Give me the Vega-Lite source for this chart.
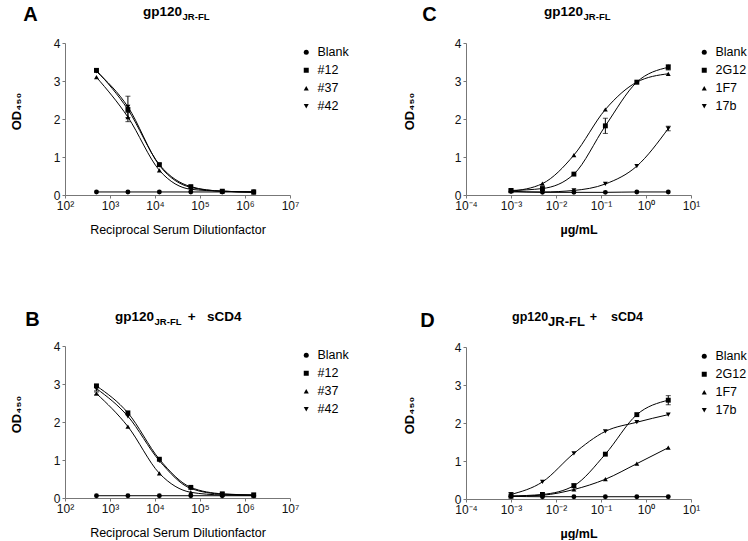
{
  "$schema": "https://vega.github.io/schema/vega-lite/v6.json",
  "padding": {"left": 10, "top": 5, "right": 0, "bottom": 0},
  "background": "white",
  "datasets": {
    "ab": [
      {"p":"A","s":"Blank","x":500,"y":0.08},{"p":"A","s":"Blank","x":2500,"y":0.08},{"p":"A","s":"Blank","x":12500,"y":0.08},{"p":"A","s":"Blank","x":62500,"y":0.08},{"p":"A","s":"Blank","x":312500,"y":0.08},{"p":"A","s":"Blank","x":1562500,"y":0.08},
      {"p":"A","s":"#12","x":500,"y":3.28,"e":0.04},{"p":"A","s":"#12","x":2500,"y":2.25},{"p":"A","s":"#12","x":12500,"y":0.8},{"p":"A","s":"#12","x":62500,"y":0.22},{"p":"A","s":"#12","x":312500,"y":0.1},{"p":"A","s":"#12","x":1562500,"y":0.08},
      {"p":"A","s":"#37","x":500,"y":3.1},{"p":"A","s":"#37","x":2500,"y":2.05,"e":0.12},{"p":"A","s":"#37","x":12500,"y":0.65},{"p":"A","s":"#37","x":62500,"y":0.15},{"p":"A","s":"#37","x":312500,"y":0.1},{"p":"A","s":"#37","x":1562500,"y":0.07},
      {"p":"A","s":"#42","x":500,"y":3.25},{"p":"A","s":"#42","x":2500,"y":2.32,"e":0.28},{"p":"A","s":"#42","x":12500,"y":0.78},{"p":"A","s":"#42","x":62500,"y":0.2},{"p":"A","s":"#42","x":312500,"y":0.1},{"p":"A","s":"#42","x":1562500,"y":0.08},
      {"p":"B","s":"Blank","x":500,"y":0.06},{"p":"B","s":"Blank","x":2500,"y":0.06},{"p":"B","s":"Blank","x":12500,"y":0.06},{"p":"B","s":"Blank","x":62500,"y":0.06},{"p":"B","s":"Blank","x":312500,"y":0.06},{"p":"B","s":"Blank","x":1562500,"y":0.06},
      {"p":"B","s":"#12","x":500,"y":2.95,"e":0.04},{"p":"B","s":"#12","x":2500,"y":2.24},{"p":"B","s":"#12","x":12500,"y":1.02},{"p":"B","s":"#12","x":62500,"y":0.28},{"p":"B","s":"#12","x":312500,"y":0.11},{"p":"B","s":"#12","x":1562500,"y":0.08},
      {"p":"B","s":"#37","x":500,"y":2.75,"e":0.04},{"p":"B","s":"#37","x":2500,"y":1.88},{"p":"B","s":"#37","x":12500,"y":0.65},{"p":"B","s":"#37","x":62500,"y":0.15},{"p":"B","s":"#37","x":312500,"y":0.08},{"p":"B","s":"#37","x":1562500,"y":0.07},
      {"p":"B","s":"#42","x":500,"y":2.88,"e":0.06},{"p":"B","s":"#42","x":2500,"y":2.15},{"p":"B","s":"#42","x":12500,"y":0.98},{"p":"B","s":"#42","x":62500,"y":0.25},{"p":"B","s":"#42","x":312500,"y":0.1},{"p":"B","s":"#42","x":1562500,"y":0.08}
    ],
    "cd": [
      {"p":"C","s":"Blank","x":0.001,"y":0.1},{"p":"C","s":"Blank","x":0.005,"y":0.07},{"p":"C","s":"Blank","x":0.025,"y":0.07},{"p":"C","s":"Blank","x":0.125,"y":0.07},{"p":"C","s":"Blank","x":0.625,"y":0.08},{"p":"C","s":"Blank","x":3.125,"y":0.08},
      {"p":"C","s":"2G12","x":0.001,"y":0.12,"e":0.04},{"p":"C","s":"2G12","x":0.005,"y":0.17},{"p":"C","s":"2G12","x":0.025,"y":0.55},{"p":"C","s":"2G12","x":0.125,"y":1.82,"e":0.2},{"p":"C","s":"2G12","x":0.625,"y":2.97},{"p":"C","s":"2G12","x":3.125,"y":3.36,"e":0.07},
      {"p":"C","s":"1F7","x":0.001,"y":0.1},{"p":"C","s":"1F7","x":0.005,"y":0.3},{"p":"C","s":"1F7","x":0.025,"y":1.05},{"p":"C","s":"1F7","x":0.125,"y":2.25},{"p":"C","s":"1F7","x":0.625,"y":2.97},{"p":"C","s":"1F7","x":3.125,"y":3.19},
      {"p":"C","s":"17b","x":0.001,"y":0.08},{"p":"C","s":"17b","x":0.005,"y":0.08},{"p":"C","s":"17b","x":0.025,"y":0.12},{"p":"C","s":"17b","x":0.125,"y":0.29},{"p":"C","s":"17b","x":0.625,"y":0.76},{"p":"C","s":"17b","x":3.125,"y":1.75,"e":0.06},
      {"p":"D","s":"Blank","x":0.001,"y":0.07},{"p":"D","s":"Blank","x":0.005,"y":0.06},{"p":"D","s":"Blank","x":0.025,"y":0.06},{"p":"D","s":"Blank","x":0.125,"y":0.06},{"p":"D","s":"Blank","x":0.625,"y":0.06},{"p":"D","s":"Blank","x":3.125,"y":0.06},
      {"p":"D","s":"2G12","x":0.001,"y":0.08},{"p":"D","s":"2G12","x":0.005,"y":0.12},{"p":"D","s":"2G12","x":0.025,"y":0.35,"e":0.05},{"p":"D","s":"2G12","x":0.125,"y":1.18},{"p":"D","s":"2G12","x":0.625,"y":2.22},{"p":"D","s":"2G12","x":3.125,"y":2.6,"e":0.12},
      {"p":"D","s":"1F7","x":0.001,"y":0.07},{"p":"D","s":"1F7","x":0.005,"y":0.1},{"p":"D","s":"1F7","x":0.025,"y":0.25},{"p":"D","s":"1F7","x":0.125,"y":0.52},{"p":"D","s":"1F7","x":0.625,"y":0.93},{"p":"D","s":"1F7","x":3.125,"y":1.35},
      {"p":"D","s":"17b","x":0.001,"y":0.12,"e":0.05},{"p":"D","s":"17b","x":0.005,"y":0.45},{"p":"D","s":"17b","x":0.025,"y":1.2},{"p":"D","s":"17b","x":0.125,"y":1.78},{"p":"D","s":"17b","x":0.625,"y":2.02},{"p":"D","s":"17b","x":3.125,"y":2.22}
    ]
  },
  "spacing": 51,
  "resolve": {"scale": {"shape": "independent"}},
  "hconcat": [
    {
      "spacing": 74,
      "resolve": {"scale": {"shape": "independent"}},
      "vconcat": [
        {
          "title": {"text": "A", "fontSize": 20, "fontWeight": "bold", "anchor": "start", "dx": 13, "offset": -20},
          "resolve": {"scale": {"shape": "independent"}},
          "vconcat": [
            {
              "width": 225, "height": 152,
              "title": {"text": "gp120", "subtitle": "\u200b\u00a0\u00a0\u00a0\u00a0\u00a0\u00a0\u00a0\u00a0\u00a0\u00a0\u00a0\u00a0\u00a0\u00a0\u00a0JR-FL", "frame": "group", "anchor": "start", "dx": 78, "fontSize": 13.5, "fontWeight": "bold", "subtitleFontSize": 9.5, "subtitleFontWeight": "bold", "subtitlePadding": -7, "offset": 16},
              "data": {"name": "ab"},
              "transform": [{"filter": "datum.p === 'A'"}],
              "encoding": {
                "x": {"field": "x", "type": "quantitative", "scale": {"type": "log", "domain": [100, 10000000]}, "axis": {"values": [100, 1000, 10000, 100000, 1000000, 10000000], "labelExpr": "'10' + ['⁻⁴','⁻³','⁻²','⁻¹','⁰','¹','²','³','⁴','⁵','⁶','⁷'][round(log(datum.value)/LN10)+4]", "title": "Reciprocal Serum Dilutionfactor"}},
                "y": {"field": "y", "type": "quantitative", "scale": {"domain": [0, 4]}, "axis": {"values": [0, 1, 2, 3, 4], "title": "OD₄₅₀", "titleY": 68}}
              },
              "layer": [
                {"mark": {"type": "line", "interpolate": "monotone", "color": "black", "strokeWidth": 1}, "encoding": {"detail": {"field": "s"}}},
                {"mark": {"type": "point", "filled": true, "color": "black", "opacity": 1, "size": 24}, "encoding": {"shape": {"field": "s", "type": "nominal", "scale": {"domain": ["Blank", "#12", "#37", "#42"], "range": ["circle", "square", "triangle-up", "triangle-down"]}, "legend": {"title": null, "offset": 7}}}},
                {"transform": [{"filter": "datum.e > 0"}], "mark": {"type": "errorbar", "ticks": true, "color": "black"}, "encoding": {"yError": {"field": "e"}}}
              ]
            }
          ]
        },
        {
          "title": {"text": "B", "fontSize": 20, "fontWeight": "bold", "anchor": "start", "dx": 15, "offset": -20},
          "resolve": {"scale": {"shape": "independent"}},
          "vconcat": [
            {
              "width": 225, "height": 152,
              "title": {"text": "gp120\u00a0\u00a0\u00a0\u00a0\u00a0\u00a0\u00a0\u00a0\u00a0+\u00a0\u00a0\u00a0sCD4", "subtitle": "\u200b\u00a0\u00a0\u00a0\u00a0\u00a0\u00a0\u00a0\u00a0\u00a0\u00a0\u00a0\u00a0\u00a0\u00a0\u00a0JR-FL", "frame": "group", "anchor": "start", "dx": 50, "fontSize": 13.5, "fontWeight": "bold", "subtitleFontSize": 9.5, "subtitleFontWeight": "bold", "subtitlePadding": -7, "offset": 14},
              "data": {"name": "ab"},
              "transform": [{"filter": "datum.p === 'B'"}],
              "encoding": {
                "x": {"field": "x", "type": "quantitative", "scale": {"type": "log", "domain": [100, 10000000]}, "axis": {"values": [100, 1000, 10000, 100000, 1000000, 10000000], "labelExpr": "'10' + ['⁻⁴','⁻³','⁻²','⁻¹','⁰','¹','²','³','⁴','⁵','⁶','⁷'][round(log(datum.value)/LN10)+4]", "title": "Reciprocal Serum Dilutionfactor"}},
                "y": {"field": "y", "type": "quantitative", "scale": {"domain": [0, 4]}, "axis": {"values": [0, 1, 2, 3, 4], "title": "OD₄₅₀", "titleY": 68}}
              },
              "layer": [
                {"mark": {"type": "line", "interpolate": "monotone", "color": "black", "strokeWidth": 1}, "encoding": {"detail": {"field": "s"}}},
                {"mark": {"type": "point", "filled": true, "color": "black", "opacity": 1, "size": 24}, "encoding": {"shape": {"field": "s", "type": "nominal", "scale": {"domain": ["Blank", "#12", "#37", "#42"], "range": ["circle", "square", "triangle-up", "triangle-down"]}, "legend": {"title": null, "offset": 7}}}},
                {"transform": [{"filter": "datum.e > 0"}], "mark": {"type": "errorbar", "ticks": true, "color": "black"}, "encoding": {"yError": {"field": "e"}}}
              ]
            }
          ]
        }
      ]
    },
    {
      "spacing": 74,
      "resolve": {"scale": {"shape": "independent"}},
      "vconcat": [
        {
          "title": {"text": "C", "fontSize": 20, "fontWeight": "bold", "anchor": "start", "dx": 19, "offset": -20},
          "resolve": {"scale": {"shape": "independent"}},
          "vconcat": [
            {
              "width": 225, "height": 152,
              "title": {"text": "gp120", "subtitle": "\u200b\u00a0\u00a0\u00a0\u00a0\u00a0\u00a0\u00a0\u00a0\u00a0\u00a0\u00a0\u00a0\u00a0\u00a0\u00a0JR-FL", "frame": "group", "anchor": "start", "dx": 78, "fontSize": 13.5, "fontWeight": "bold", "subtitleFontSize": 9.5, "subtitleFontWeight": "bold", "subtitlePadding": -7, "offset": 16},
              "data": {"name": "cd"},
              "transform": [{"filter": "datum.p === 'C'"}],
              "encoding": {
                "x": {"field": "x", "type": "quantitative", "scale": {"type": "log", "domain": [0.0001, 10]}, "axis": {"values": [0.0001, 0.001, 0.01, 0.1, 1, 10], "labelExpr": "'10' + ['⁻⁴','⁻³','⁻²','⁻¹','⁰','¹','²','³','⁴','⁵','⁶','⁷'][round(log(datum.value)/LN10)+4]", "title": "µg/mL", "titleFontWeight": "bold"}},
                "y": {"field": "y", "type": "quantitative", "scale": {"domain": [0, 4]}, "axis": {"values": [0, 1, 2, 3, 4], "title": "OD₄₅₀", "titleY": 68, "titlePadding": 38}}
              },
              "layer": [
                {"mark": {"type": "line", "interpolate": "monotone", "color": "black", "strokeWidth": 1}, "encoding": {"detail": {"field": "s"}}},
                {"mark": {"type": "point", "filled": true, "color": "black", "opacity": 1, "size": 24}, "encoding": {"shape": {"field": "s", "type": "nominal", "scale": {"domain": ["Blank", "2G12", "1F7", "17b"], "range": ["circle", "square", "triangle-up", "triangle-down"]}, "legend": {"title": null, "offset": 4}}}},
                {"transform": [{"filter": "datum.e > 0"}], "mark": {"type": "errorbar", "ticks": true, "color": "black"}, "encoding": {"yError": {"field": "e"}}}
              ]
            }
          ]
        },
        {
          "title": {"text": "D", "fontSize": 20, "fontWeight": "bold", "anchor": "start", "dx": 17, "offset": -20},
          "resolve": {"scale": {"shape": "independent"}},
          "vconcat": [
            {
              "width": 225, "height": 152,
              "title": {"text": "gp120\u00a0\u00a0\u00a0\u00a0\u00a0\u00a0\u00a0\u00a0\u00a0\u00a0\u00a0\u00a0+\u00a0\u00a0\u00a0\u00a0sCD4", "subtitle": "\u200b\u00a0\u00a0\u00a0\u00a0\u00a0\u00a0\u00a0\u00a0\u00a0\u00a0JR-FL", "frame": "group", "anchor": "start", "dx": 46, "fontSize": 12.5, "fontWeight": "bold", "subtitleFontSize": 13, "subtitleFontWeight": "bold", "subtitlePadding": -7, "offset": 12},
              "data": {"name": "cd"},
              "transform": [{"filter": "datum.p === 'D'"}],
              "encoding": {
                "x": {"field": "x", "type": "quantitative", "scale": {"type": "log", "domain": [0.0001, 10]}, "axis": {"values": [0.0001, 0.001, 0.01, 0.1, 1, 10], "labelExpr": "'10' + ['⁻⁴','⁻³','⁻²','⁻¹','⁰','¹','²','³','⁴','⁵','⁶','⁷'][round(log(datum.value)/LN10)+4]", "title": "µg/mL", "titleFontWeight": "bold"}},
                "y": {"field": "y", "type": "quantitative", "scale": {"domain": [0, 4]}, "axis": {"values": [0, 1, 2, 3, 4], "title": "OD₄₅₀", "titleY": 68, "titlePadding": 38}}
              },
              "layer": [
                {"mark": {"type": "line", "interpolate": "monotone", "color": "black", "strokeWidth": 1}, "encoding": {"detail": {"field": "s"}}},
                {"mark": {"type": "point", "filled": true, "color": "black", "opacity": 1, "size": 24}, "encoding": {"shape": {"field": "s", "type": "nominal", "scale": {"domain": ["Blank", "2G12", "1F7", "17b"], "range": ["circle", "square", "triangle-up", "triangle-down"]}, "legend": {"title": null, "offset": 4}}}},
                {"transform": [{"filter": "datum.e > 0"}], "mark": {"type": "errorbar", "ticks": true, "color": "black"}, "encoding": {"yError": {"field": "e"}}}
              ]
            }
          ]
        }
      ]
    }
  ],
  "config": {
    "font": "Liberation Sans",
    "view": {"stroke": null},
    "axis": {"domainColor": "#777", "tickColor": "#777", "tickSize": 3, "labelFontSize": 12, "labelColor": "#111", "titleColor": "#000", "grid": false, "labelPadding": 2},
    "axisX": {"titleFontSize": 12.5, "titleFontWeight": "normal", "titlePadding": 12, "labelFlush": false},
    "axisY": {"titleFontSize": 13, "titleFontWeight": "bold", "titlePadding": 30},
    "legend": {"orient": "right", "padding": 3, "labelFontSize": 12.5, "labelColor": "#000", "symbolSize": 25, "symbolFillColor": "black", "symbolStrokeColor": "black", "rowPadding": 5, "labelOffset": 5},
    "title": {"color": "#000", "subtitleColor": "#000"}
  }
}
